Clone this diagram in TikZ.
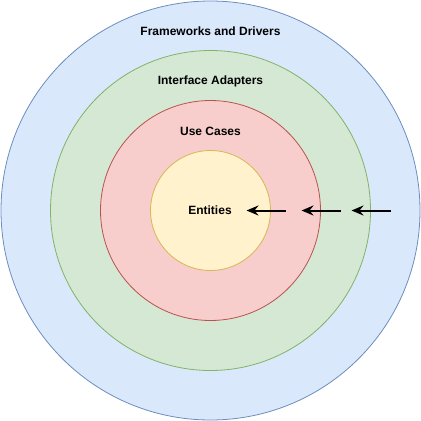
\documentclass[tikz,border=0pt]{standalone}
\usepackage{fontspec}
\setmainfont{Liberation Sans}
\usetikzlibrary{arrows.meta}
\definecolor{bluef}{HTML}{DAE8FC}\definecolor{blues}{HTML}{6C8EBF}
\definecolor{greenf}{HTML}{D5E8D4}\definecolor{greens}{HTML}{82B366}
\definecolor{redf}{HTML}{F8CECC}\definecolor{reds}{HTML}{B85450}
\definecolor{yellowf}{HTML}{FFF2CC}\definecolor{yellows}{HTML}{D6B656}
\tikzset{
  ring/.style={circle, inner sep=0pt, line width=0.8pt},
  lbl/.style={font=\bfseries\fontsize{12}{14}\selectfont, inner sep=0pt, anchor=center},
  dep/.style={line width=2pt, -{Stealth[length=12pt,width=10pt,inset=4pt]}},
}
\begin{document}
\begin{tikzpicture}[x=1pt,y=-1pt]
\useasboundingbox (0,0) rectangle (421,421);
\node[ring, draw=blues, fill=bluef, minimum size=419pt] (fd) at (210.5,210.5) {};
\node[ring, draw=greens, fill=greenf, minimum size=320pt] (ia) at (210.5,210.5) {};
\node[ring, draw=reds, fill=redf, minimum size=220pt] (uc) at (210.5,210.5) {};
\node[ring, draw=yellows, fill=yellowf, minimum size=120pt] (en) at (210.5,210.5) {};
\node[lbl] (fdl) at (210.5,31.5) {Frameworks and Drivers};
\node[lbl] (ial) at (210.5,81.5) {Interface Adapters};
\node[lbl] (ucl) at (210.5,131.5) {Use Cases};
\node[lbl] (enl) at (210,210.5) {Entities};
\coordinate (a1s) at (285.5,210.5); \coordinate (a1e) at (246.5,210.5);
\coordinate (a2s) at (340.5,210.5); \coordinate (a2e) at (301.5,210.5);
\coordinate (a3s) at (390.5,210.5); \coordinate (a3e) at (351.5,210.5);
\draw[dep] (a1s) -- (a1e);
\draw[dep] (a2s) -- (a2e);
\draw[dep] (a3s) -- (a3e);
\end{tikzpicture}
\end{document}
